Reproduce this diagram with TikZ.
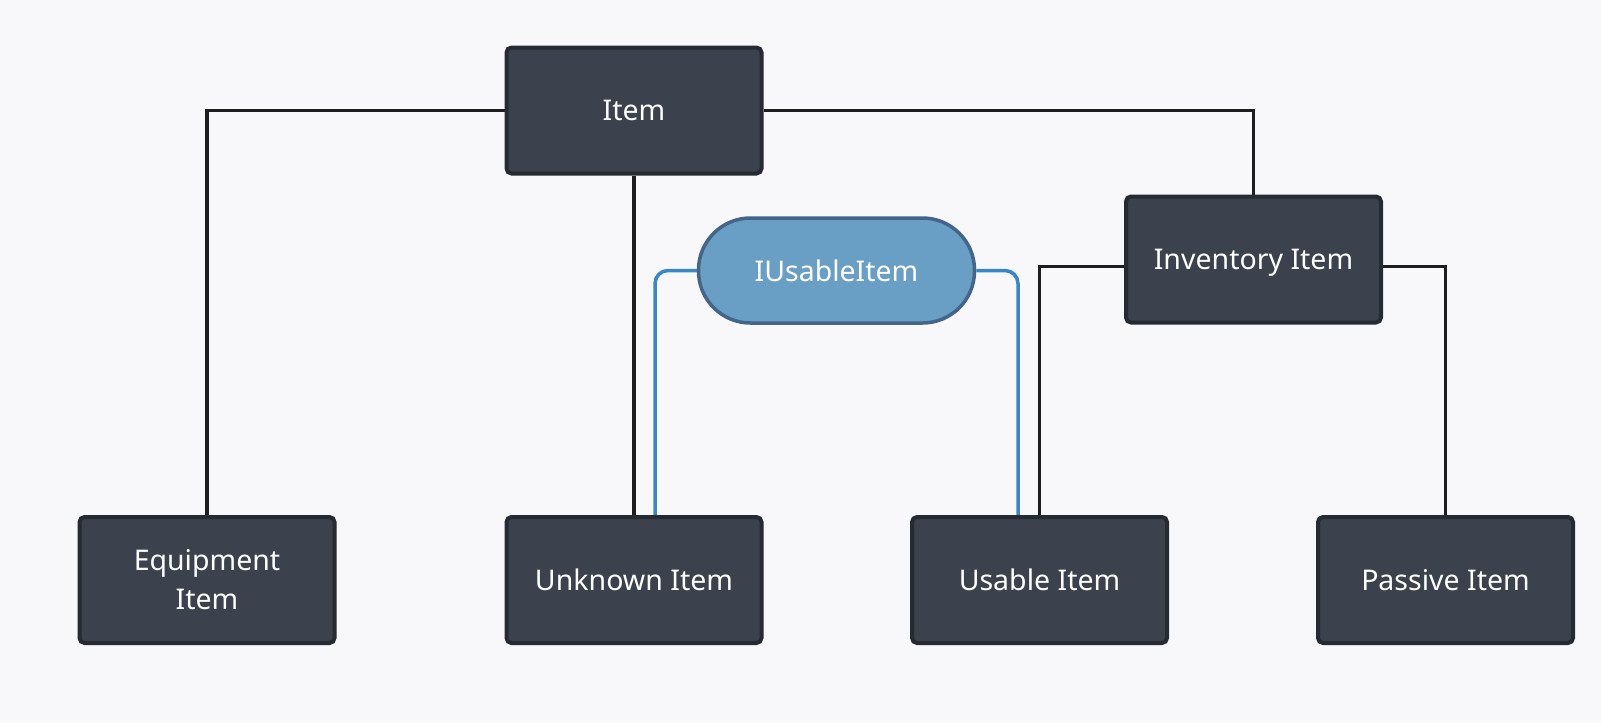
\documentclass[tikz,border=0pt]{standalone}
\usepackage{fontspec}
\setmainfont{Noto Sans}
\pgfdeclarelayer{bg}
\pgfdeclarelayer{lines}
\pgfsetlayers{bg,lines,main}
\definecolor{bgc}{HTML}{F8F8FB}
\definecolor{boxfill}{HTML}{3B414D}
\definecolor{boxdraw}{HTML}{252A33}
\definecolor{iufill}{HTML}{6A9FC5}
\definecolor{iudraw}{HTML}{43658A}
\definecolor{blueline}{HTML}{3A87C8}
\definecolor{blackline}{HTML}{1E1E1E}
\begin{document}
\begin{tikzpicture}[x=1pt,y=-1pt,
  cls/.style={draw=boxdraw,fill=boxfill,line width=4pt,rounded corners=5pt,
    minimum width=255pt,minimum height=126pt,inner sep=0pt,
    text=white,font=\fontsize{28.5}{39}\selectfont,align=center},
  iface/.style={draw=iudraw,fill=iufill,line width=3.5pt,rounded corners=52pt,
    minimum width=276pt,minimum height=105pt,inner sep=0pt,
    text=white,font=\fontsize{28.5}{39}\selectfont},
  link/.style={draw=blackline,line width=3.8pt},
  ilink/.style={draw=blueline,line width=3.5pt,rounded corners=13pt}]
\begin{pgfonlayer}{bg}
\fill[bgc] (0,0) rectangle (1601,723);
\end{pgfonlayer}
\node[cls] (item) at (634,110.5) {Item};
\node[cls] (inv) at (1253.5,259.5) {\raisebox{0pt}[\height][0pt]{Inventory Item}};
\node[iface] (iu) at (836.5,270.5) {IUsableItem};
\node[cls] (equip) at (207,580) {Equipment\\Item};
\node[cls] (unknown) at (634,580) {Unknown Item};
\node[cls] (usable) at (1039.5,580) {Usable Item};
\node[cls] (passive) at (1445.5,580) {Passive Item};
\begin{pgfonlayer}{lines}
\draw[link] (item.west) -| (equip.north);
\draw[link] (item.east) -| (inv.north);
\draw[link] (item.south) -- (unknown.north);
\draw[link] ([yshift=-7pt]inv.west) -| (usable.north);
\draw[link] ([yshift=-7pt]inv.east) -| (passive.north);
\draw[ilink] (iu.west) -| ([xshift=21pt]unknown.north);
\draw[ilink] (iu.east) -| ([xshift=-21.5pt]usable.north);
\end{pgfonlayer}
\end{tikzpicture}
\end{document}
